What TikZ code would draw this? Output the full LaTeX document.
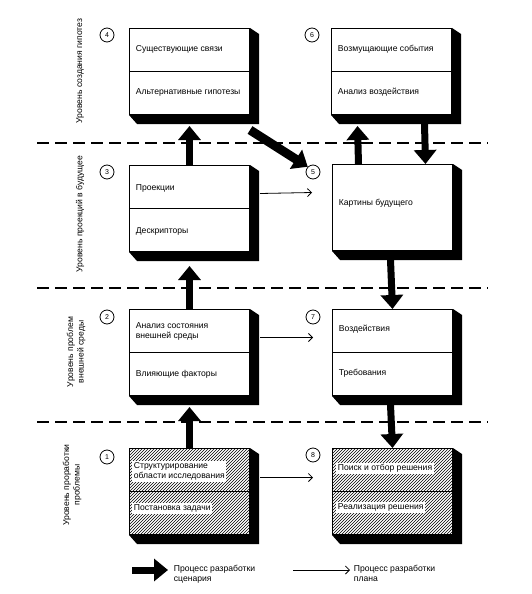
\documentclass[tikz,border=0pt]{standalone}
\usepackage{fontspec}
\setmainfont{Liberation Sans}
\usetikzlibrary{arrows.meta,patterns}

\begin{document}
\begin{tikzpicture}[x=1pt, y=-1pt, thick,
    box/.style={draw, line width=1pt, fill=white, anchor=north west,
        minimum width=120pt, minimum height=86pt, inner sep=0pt},
    hatched/.style={box, postaction={pattern=north east lines}},
    txt/.style={anchor=west, fill=white, align=left, inner sep=1.5pt,
        font=\fontsize{8.6}{10.5}\selectfont},
    num/.style={draw, circle, line width=0.8pt, minimum size=14pt,
        inner sep=0pt, font=\fontsize{7}{7}\selectfont},
    level/.style={rotate=90, align=center, font=\fontsize{8.6}{10.5}\selectfont},
    sep/.style={dash pattern=on 12pt off 6pt, line width=1.6pt},
    scen/.style={line width=7pt, -{Triangle[length=14pt, width=22pt]}},
    plan/.style={line width=0.8pt, -{Straight Barb[length=4pt, width=8pt]}}]

    \useasboundingbox (0,0) rectangle (531,594);

    % level borders
    \draw[sep] (37,143) -- (488,143);
    \draw[sep] (37,288) -- (488,288);
    \draw[sep] (37,422) -- (488,422);

    % level names
    \node[level] (lev4) at (80,71) {Уровень создания гипотез};
    \node[level] (lev3) at (80,214) {Уровень проекций в будущее};
    \node[level] (lev2) at (76,352) {Уровень проблем\\внешней среды};
    \node[level] (lev1) at (72,485) {Уровень проработки\\проблемы};

    % boxes
    \node[box] (b4) at (129,28) {};
    \node[box] (b6) at (331,28) {};
    \node[box] (b3) at (129,165) {};
    \node[box] (b5) at (332,164) {};
    \node[box] (b2) at (129,309) {};
    \node[box] (b7) at (332,309) {};
    \node[hatched] (b1) at (129,448) {};
    \node[hatched] (b8) at (332,448) {};

    \foreach \b in {b1,b2,b3,b4,b5,b6,b7,b8}
        \fill (\b.north east) -- ++(9,6) |- ([shift={(8,9)}]\b.south west)
            -- (\b.south west) -- (\b.south east) -- cycle;
    \foreach \b in {b1,b2,b3,b4,b6,b7,b8}
        \draw[line width=0.8pt] (\b.west) -- (\b.east);

    % numbers
    \node[num] (c4) at (107,35) {4};
    \node[num] (c6) at (312,35) {6};
    \node[num] (c3) at (107,172) {3};
    \node[num] (c5) at (313,172) {5};
    \node[num] (c2) at (107,317) {2};
    \node[num] (c7) at (313,317) {7};
    \node[num] (c1) at (107,457) {1};
    \node[num] (c8) at (313,455) {8};

    % texts
    \node[txt] (t4a) at ([shift={(5,-22)}]b4.west) {Существующие связи};
    \node[txt] (t4b) at ([shift={(5,21)}]b4.west) {Альтернативные гипотезы};
    \node[txt] (t6a) at ([shift={(5,-22)}]b6.west) {Возмущающие события};
    \node[txt] (t6b) at ([shift={(5,21)}]b6.west) {Анализ воздействия};
    \node[txt] (t3a) at ([shift={(5,-20)}]b3.west) {Проекции};
    \node[txt] (t3b) at ([shift={(5,23)}]b3.west) {Дескрипторы};
    \node[txt] (t5) at ([shift={(5,-4)}]b5.west) {Картины будущего};
    \node[txt] (t2a) at ([shift={(5,-21)}]b2.west) {Анализ состояния\\внешней среды};
    \node[txt] (t2b) at ([shift={(5,22)}]b2.west) {Влияющие факторы};
    \node[txt] (t7a) at ([shift={(5,-23)}]b7.west) {Воздействия};
    \node[txt] (t7b) at ([shift={(5,21)}]b7.west) {Требования};
    \node[txt] (t1a) at ([shift={(3,-20)}]b1.west) {Структурирование\\области исследования};
    \node[txt] (t1b) at ([shift={(3,17)}]b1.west) {Постановка задачи};
    \node[txt] (t8a) at ([shift={(4,-23)}]b8.west) {Поиск и отбор решения};
    \node[txt] (t8b) at ([shift={(4,16)}]b8.west) {Реализация решения};

    % scenario process
    \draw[scen] (b3.north) -- ([shift={(0,11)}]b4.south);
    \draw[scen] (b2.north) -- ([shift={(0,14)}]b3.south);
    \draw[scen] (b1.north) -- ([shift={(0,11)}]b2.south);
    \draw[scen, line width=9pt] ([shift={(0,15)}]b4.south east) -- (c5.north west);
    \draw[scen] ([xshift=-34pt]b5.north) -- ([shift={(-34,11)}]b6.south);
    \draw[scen] ([shift={(33,9)}]b6.south) -- ([xshift=33pt]b5.north);
    \draw[scen] ([shift={(-2,9)}]b5.south) -- (b7.north);
    \draw[scen] ([shift={(-2,9)}]b7.south) -- (b8.north);

    % plan process
    \draw[plan] ([shift={(10,-15)}]b3.east) -- ([shift={(-20,-15)}]b5.west);
    \draw[plan] ([shift={(10,-15)}]b2.east) -- ([shift={(-19,-15)}]b7.west);
    \draw[plan] ([shift={(10,-14)}]b1.east) -- ([shift={(-19,-14)}]b8.west);

    % legend
    \coordinate (ls) at (132,570);
    \coordinate (lp) at (293,570);
    \draw[scen] (ls) -- ++(36,0) coordinate (lse);
    \draw[plan] (lp) -- ++(57,0) coordinate (lpe);
    \node[txt, anchor=north west] (lst) at ([shift={(4,-7)}]lse) {Процесс разработки\\сценария};
    \node[txt, anchor=north west] (lpt) at ([shift={(2,-7)}]lpe) {Процесс разработки\\плана};
\end{tikzpicture}
\end{document}
